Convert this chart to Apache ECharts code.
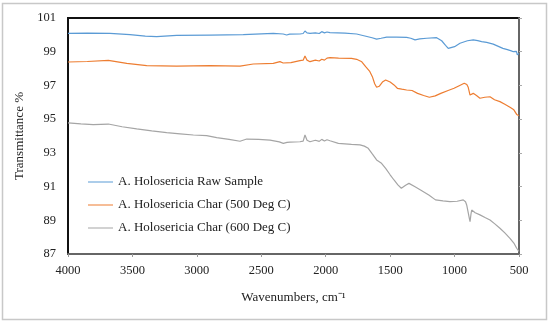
<!DOCTYPE html>
<html><head><meta charset="utf-8">
<script src="https://cdn.jsdelivr.net/npm/echarts@6/dist/echarts.min.js"></script>
<style>html,body{margin:0;padding:0;background:#fff}#c{width:550px;height:326px}</style>
</head><body><div id="c"></div>
<script>
const seriesNames = ['A. Holosericia Raw Sample','A. Holosericia Char (500 Deg C)','A. Holosericia Char (600 Deg C)'];
const yTicks = [87,89,91,93,95,97,99,101];
const xTicks = [4000,3500,3000,2500,2000,1500,1000,500];

const rawWn = [4000,3850,3674,3519,3400,3312,3157,2898,2640,2407,2330,2303,2280,2200,2175,2161,2145,2122,2080,2050,2031,2010,1990,1967,1850,1760,1672,1640,1605,1570,1527,1450,1372,1340,1307,1270,1217,1139,1100,1070,1049,1036,1000,958,900,855,820,790,751,700,625,590,560,544,530,520,513,500];
const rawT  = [100.09,100.10,100.09,100.01,99.93,99.89,99.97,99.99,100.01,100.09,100.05,99.99,100.04,100.05,100.08,100.23,100.12,100.09,100.12,100.08,100.19,100.12,100.17,100.13,100.10,100.05,99.89,99.83,99.75,99.80,99.87,99.86,99.85,99.80,99.70,99.76,99.80,99.83,99.65,99.38,99.20,99.14,99.30,99.50,99.65,99.70,99.66,99.60,99.55,99.45,99.20,99.12,99.05,99.00,98.95,99.02,98.81,98.90];

const c500Wn = [4000,3850,3687,3544,3389,3157,2898,2665,2562,2407,2355,2330,2316,2270,2200,2175,2161,2145,2122,2080,2050,2031,2010,1990,1967,1900,1800,1760,1720,1690,1660,1638,1620,1605,1585,1560,1535,1500,1470,1444,1410,1372,1330,1287,1240,1196,1150,1107,1050,1004,960,925,905,894,880,855,830,803,765,725,690,648,610,570,540,518,500];
const c500T  = [98.39,98.42,98.49,98.31,98.17,98.15,98.17,98.15,98.27,98.31,98.41,98.33,98.27,98.35,98.47,98.50,98.75,98.50,98.41,98.50,98.45,98.55,98.50,98.62,98.65,98.62,98.60,98.55,98.40,98.11,97.85,97.52,97.10,96.89,96.95,97.20,97.32,97.20,97.03,96.83,96.78,96.73,96.70,96.53,96.40,96.30,96.38,96.53,96.70,96.83,97.00,97.13,97.05,96.89,96.43,96.53,96.40,96.24,96.30,96.33,96.15,96.04,95.88,95.70,95.55,95.28,95.20];

const c600Wn = [4000,3900,3804,3687,3580,3467,3350,3234,3130,3027,2924,2846,2750,2665,2613,2520,2432,2360,2329,2300,2277,2200,2175,2161,2145,2122,2080,2050,2031,2010,1990,1967,1902,1800,1734,1700,1670,1640,1605,1570,1535,1500,1470,1440,1413,1380,1354,1310,1264,1200,1148,1090,1036,980,933,915,906,885,880,872,867,840,803,760,725,690,648,610,570,540,518,505,500];
const c600T  = [94.78,94.72,94.67,94.71,94.55,94.42,94.30,94.20,94.13,94.06,94.02,93.90,93.80,93.69,93.82,93.80,93.76,93.65,93.56,93.62,93.64,93.66,93.70,94.06,93.75,93.66,93.75,93.68,93.80,93.70,93.78,93.72,93.56,93.50,93.47,93.40,93.27,92.95,92.58,92.40,92.08,91.70,91.39,91.10,90.90,91.08,91.19,91.00,90.80,90.50,90.21,90.15,90.11,90.13,90.21,90.10,89.91,89.10,88.92,89.40,89.61,89.45,89.32,89.15,89.02,88.80,88.53,88.25,87.93,87.65,87.34,87.25,87.15];

const colors = ['#5b9bd5','#ed7d31','#a5a5a5'];
const font = 'Liberation Serif';
const lineIcon = 'path://M0,0h0.01v0.01h-0.01z M0,6.4h25v1.2h-25z M24.99,13.99h0.01v0.01h-0.01z';

function pairs(xs, ys){ return xs.map((x,i)=>[x, ys[i]]); }

const chart = echarts.init(document.getElementById('c'), null, {renderer:'canvas'});
chart.setOption({
  animation:false,
  color: colors,
  textStyle:{fontFamily:font},
  grid:{left:68, right:31, top:18, bottom:72, show:true, borderColor:'#111', borderWidth:2, backgroundColor:'transparent'},
  graphic:[{type:'rect', shape:{x:2.5,y:3.5,width:544,height:316}, style:{fill:'none', stroke:'#c8c8c8', lineWidth:1.5}, silent:true, z:-1}],
  legend:{
    orient:'vertical', left:88, top:175, padding:0, itemWidth:25, itemHeight:14, itemGap:9,
    textStyle:{fontFamily:font, fontSize:13, color:'#222'},
    data: seriesNames.map(n=>({name:n, icon:lineIcon}))
  },
  xAxis:{
    type:'value', inverse:true, min:500, max:4000, interval:500,
    name:'Wavenumbers, cm\u207B\u00B9', nameLocation:'middle', nameGap:37,
    nameTextStyle:{fontFamily:font, fontSize:13, color:'#222'},
    axisLine:{show:true, lineStyle:{color:'#666', width:2}},
    axisTick:{show:true, length:3, lineStyle:{color:'#999'}},
    axisLabel:{fontFamily:font, fontSize:12.5, color:'#222', margin:10,
      formatter:v=> xTicks.includes(v) ? String(v) : ''},
    splitLine:{show:false}
  },
  yAxis:[{
    type:'value', min:87, max:101, interval:2, position:'left',
    name:'Transmittance %', nameLocation:'middle', nameGap:35, nameRotate:90,
    nameTextStyle:{fontFamily:font, fontSize:13, color:'#222'},
    axisLine:{show:false}, axisTick:{show:false},
    axisLabel:{fontFamily:font, fontSize:12.5, color:'#222', margin:12,
      formatter:v=> yTicks.includes(v) ? String(v) : ''},
    splitLine:{show:false}
  },{
    type:'value', min:87, max:101, interval:2, position:'right',
    axisLine:{show:true, lineStyle:{color:'#666', width:2}},
    axisTick:{show:true, length:3, lineStyle:{color:'#aaa'}},
    axisLabel:{show:false}, splitLine:{show:false}
  }],
  series:[
    {name:seriesNames[0], type:'line', symbol:'none', data:pairs(rawWn, rawT), lineStyle:{width:1.2, color:colors[0]}, itemStyle:{color:colors[0]}},
    {name:seriesNames[1], type:'line', symbol:'none', data:pairs(c500Wn, c500T), lineStyle:{width:1.2, color:colors[1]}, itemStyle:{color:colors[1]}},
    {name:seriesNames[2], type:'line', symbol:'none', data:pairs(c600Wn, c600T), lineStyle:{width:1.2, color:colors[2]}, itemStyle:{color:colors[2]}}
  ]
});
</script></body></html>
